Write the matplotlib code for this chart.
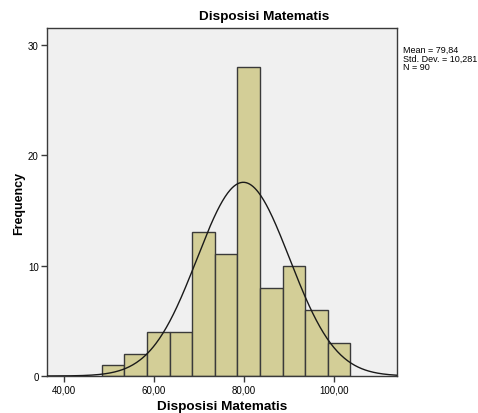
import numpy as np
import matplotlib.pyplot as plt

plt.rcParams['font.family'] = ['Liberation Sans', 'DejaVu Sans']

# datos del histograma
bin_start = 48.4
bin_width = 5.02
counts = [1, 2, 4, 4, 13, 11, 28, 8, 10, 6, 3]
mean = 79.84
std = 10.281
n = 90
x_ticks = [40, 60, 80, 100]
y_ticks = [0, 10, 20, 30]

edges = bin_start + bin_width * np.arange(len(counts) + 1)

fig = plt.figure(figsize=(4.78, 4.14), dpi=100)
ax = fig.add_axes([0.0983, 0.0894, 0.7322, 0.8406])
ax.set_facecolor('#f0f0f0')

ax.bar(edges[:-1], counts, width=bin_width, align='edge',
       color='#d3ce97', edgecolor='#3a3a3a', linewidth=1.0, zorder=2)

# curva normal
xs = np.linspace(36.2, 114.0, 400)
ys = n * bin_width / (std * np.sqrt(2 * np.pi)) * np.exp(-0.5 * ((xs - mean) / std) ** 2)
ax.plot(xs, ys, color='#1a1a1a', linewidth=1.0, zorder=3)

ax.set_xlim(36.2, 114.0)
ax.set_ylim(0, 31.5)
ax.set_xticks(x_ticks)
ax.set_xticklabels([f"{v:.2f}".replace('.', ',') for v in x_ticks], fontsize=7)
ax.set_yticks(y_ticks)
ax.set_yticklabels([str(v) for v in y_ticks], fontsize=7)
ax.tick_params(axis='both', direction='out', length=4, width=1, color='#3a3a3a', pad=2)

for s in ax.spines.values():
    s.set_color('#3a3a3a')
    s.set_linewidth(1.0)

# titulo centrado como en SPSS (sobre grafico + cuadro de estadisticas)
fig.text(264 / 478, 1 - 17 / 414, "Disposisi Matematis", fontsize=9.7,
         fontweight='bold', ha='center', va='center')
ax.set_xlabel("Disposisi Matematis", fontsize=9.7, fontweight='bold', labelpad=4)
ax.set_ylabel("Frequency", fontsize=9, fontweight='bold', labelpad=2)

mean_txt = f"{mean:.2f}".replace('.', ',')
std_txt = f"{std:.3f}".replace('.', ',')
fig.text(403 / 478, 1 - 46 / 414,
         f"Mean = {mean_txt}\nStd. Dev. = {std_txt}\nN = {n}",
         fontsize=6.5, va='top', ha='left', linespacing=0.95)

fig.savefig("out.png", dpi=100)
